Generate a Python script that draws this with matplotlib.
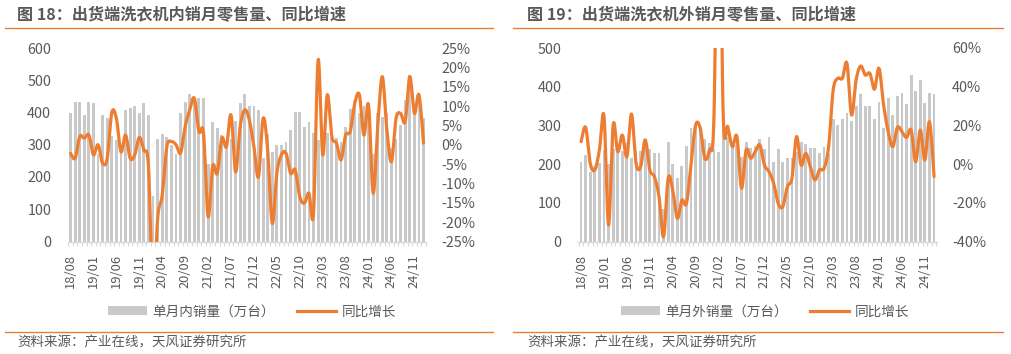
import numpy as np
import pandas as pd
import matplotlib
matplotlib.use("Agg")
import matplotlib.pyplot as plt
from matplotlib.lines import Line2D
from matplotlib.patches import Patch

plt.rcParams['font.family'] = ['Noto Sans CJK SC', 'DejaVu Sans']

months = [p.strftime('%y/%m') for p in pd.period_range('2018-08', periods=78, freq='M')]

dom_sales = [397, 433, 433, 392, 433, 428, 270, 392, 382, 327,
             315, 300, 407, 415, 420, 397, 428, 392, 141, 318,
             332, 323, 300, 270, 397, 433, 457, 444, 444, 444,
             239, 370, 351, 330, 310, 318, 375, 428, 457, 420,
             420, 408, 258, 332, 276, 299, 299, 309, 346, 401,
             401, 355, 370, 336, 315, 330, 335, 325, 320, 310,
             355, 411, 440, 397, 420, 430, 270, 400, 387, 400,
             290, 318, 360, 438, 517, 400, 440, 384]
dom_yoy = [-2.2, -3.5, 2.1, 1.7, 2.5, -2.6, 0.0, -4.8, -3.5, 8.3,
           6.8, -1.8, 2.5, -3.5, -2.6, 1.9, -1.4, -5.7, -40.0, -19.0,
           -13.0, -0.5, 0.8, 0.0, -2.1, 4.7, 9.0, 12.0, 3.4, 3.0,
           -18.6, -5.5, -7.4, 1.7, -0.5, 7.7, -7.0, 4.7, 9.0, 6.4,
           -0.5, -8.3, 6.8, -1.4, -20.3, -7.4, -2.6, -2.2, -7.4, -6.5,
           -13.4, -15.1, -12.5, -17.7, 21.9, -2.6, 12.9, 2.1, 0.4, -3.9,
           2.5, 3.4, 10.7, 12.9, 2.5, 10.3, -12.5, 4.7, 17.6, 3.8,
           -4.4, 6.8, 8.1, 6.0, 17.6, 8.1, 12.9, 0.4]

exp_sales = [206, 223, 180, 195, 204, 236, 200, 240, 229, 235,
             254, 215, 235, 234, 241, 238, 229, 228, 83, 258,
             200, 165, 195, 247, 292, 301, 295, 266, 254, 240,
             231, 292, 270, 250, 250, 218, 256, 241, 247, 265,
             238, 269, 206, 238, 206, 217, 217, 230, 257, 253,
             242, 242, 229, 245, 226, 316, 300, 316, 331, 311,
             350, 381, 350, 350, 316, 360, 292, 371, 327, 377,
             385, 356, 429, 389, 417, 358, 385, 381]
exp_yoy = [11.6, 19.0, 0.4, -3.0, 7.3, 24.9, -31.5, 20.2, 6.4, 15.0,
           3.8, 25.9, 0.4, -1.3, 12.5, -3.0, -6.5, -16.8, -37.5, -7.3,
           -13.4, -28.0, -18.6, -20.3, 0.4, 20.2, 18.5, 3.0, 7.3, 25.0,
           178.0, 26.2, 19.3, 9.0, 14.2, -12.5, 7.3, 3.0, 6.5, 9.9,
           -0.5, -3.9, -9.9, -20.3, -22.0, -11.7, -7.3, 14.2, -0.5, 5.6,
           -1.3, -8.2, -3.0, -2.2, 9.0, 38.3, 44.3, 44.3, 52.1, 25.4,
           43.5, 50.7, 46.0, 46.9, 38.7, 49.5, 30.5, 16.7, 9.0, 19.0,
           16.7, 13.8, 17.6, 1.2, 17.6, 2.1, 21.9, -6.5]

titles = ['图 18：出货端洗衣机内销月零售量、同比增速', '图 19：出货端洗衣机外销月零售量、同比增速']
bar_labels = ['单月内销量（万台）', '单月外销量（万台）']
line_label = '同比增长'
source = '资料来源：产业在线，天风证券研究所'

BAR_C = '#C9C9C9'
LINE_C = '#ED7D31'
TXT_C = '#595959'
W, H = 1011, 354


def smooth(x, y, n=20):
    x = np.asarray(x, float); y = np.asarray(y, float)
    P = np.column_stack([x, y])
    P = np.vstack([P[0], P, P[-1]])
    out = []
    t = np.linspace(0, 1, n, endpoint=False)[:, None]
    for i in range(1, len(P) - 2):
        p0, p1, p2, p3 = P[i - 1], P[i], P[i + 1], P[i + 2]
        c1 = p1 + (p2 - p0) / 6
        c2 = p2 - (p3 - p1) / 6
        seg = ((1 - t) ** 3) * p1 + 3 * ((1 - t) ** 2) * t * c1 + 3 * (1 - t) * t ** 2 * c2 + t ** 3 * p2
        out.append(seg)
    out.append(P[-2][None, :])
    out = np.vstack(out)
    return out[:, 0], out[:, 1]


fig = plt.figure(figsize=(W / 100, H / 100), dpi=100)

panels = [
    dict(x0=67.8, sales=dom_sales, yoy=dom_yoy, ylim=(0, 600), yt=np.arange(0, 601, 100),
         y2=(-25, 25), y2t=np.arange(-25, 26, 5), tx=17, lx0=5, lx1=493, legx=252),
    dict(x0=578.3, sales=exp_sales, yoy=exp_yoy, ylim=(0, 500), yt=np.arange(0, 501, 100),
         y2=(-40, 60), y2t=np.arange(-40, 61, 20), tx=527, lx0=513, lx1=1003, legx=765),
]

for k, p in enumerate(panels):
    n = len(months)
    ax = fig.add_axes([p['x0'] / W, 1 - 241.5 / H, 358.5 / W, 193.5 / H])
    xs = np.arange(n)
    ax.bar(xs, p['sales'], width=0.62, color=BAR_C, zorder=2)
    ax.set_xlim(-0.6, n - 0.4)
    ax.set_ylim(*p['ylim'])
    ax.set_yticks(p['yt'])
    for s in ['top', 'right', 'left']:
        ax.spines[s].set_visible(False)
    ax.spines['bottom'].set_color('#D9D9D9')
    ax.spines['bottom'].set_linewidth(1.0)
    ax.set_xticks(xs[::5])
    ax.set_xticklabels(months[::5], rotation=90, fontsize=9.3, color=TXT_C)
    ax.set_xticks(np.arange(-0.5, n, 1), minor=True)
    ax.tick_params(axis='x', which='major', length=0, pad=9)
    ax.tick_params(axis='x', which='minor', length=3, color='#D9D9D9', width=0.8)
    ax.tick_params(axis='y', length=0, labelsize=10.3, labelcolor=TXT_C, pad=12)

    ax2 = ax.twinx()
    sx, sy = smooth(xs, p['yoy'])
    ax2.plot(sx, sy, color=LINE_C, lw=2.3, solid_capstyle='round', zorder=3)
    ax2.set_ylim(*p['y2'])
    ax2.set_yticks(p['y2t'])
    ax2.set_yticklabels([f'{v}%' for v in p['y2t']])
    for s in ['top', 'right', 'left', 'bottom']:
        ax2.spines[s].set_visible(False)
    ax2.tick_params(axis='y', length=0, labelsize=10.3, labelcolor=TXT_C, pad=11)

    # title, rules, source
    fig.text(p['tx'] / W, 1 - 15 / H, titles[k], ha='left', va='center', fontsize=11.6,
             fontweight='bold', color=TXT_C)
    fig.add_artist(Line2D([p['lx0'] / W, p['lx1'] / W], [1 - 27.5 / H] * 2, color=LINE_C, lw=1.0))
    fig.add_artist(Line2D([p['lx0'] / W, p['lx1'] / W], [1 - 332 / H] * 2, color=LINE_C, lw=1.0))
    fig.text(p['tx'] / W, 1 - 342.5 / H, source, ha='left', va='center', fontsize=9.7, color=TXT_C)

    handles = [Patch(facecolor=BAR_C, edgecolor='none'), Line2D([0], [0], color=LINE_C, lw=2.3)]
    fig.legend(handles, [bar_labels[k], line_label], loc='center', bbox_to_anchor=(p['legx'] / W, 1 - 311.5 / H),
               ncol=2, frameon=False, fontsize=9.8, handlelength=2.9, handleheight=0.6,
               columnspacing=1.6, handletextpad=0.4, labelcolor=TXT_C)

fig.savefig('out.png', dpi=100)
